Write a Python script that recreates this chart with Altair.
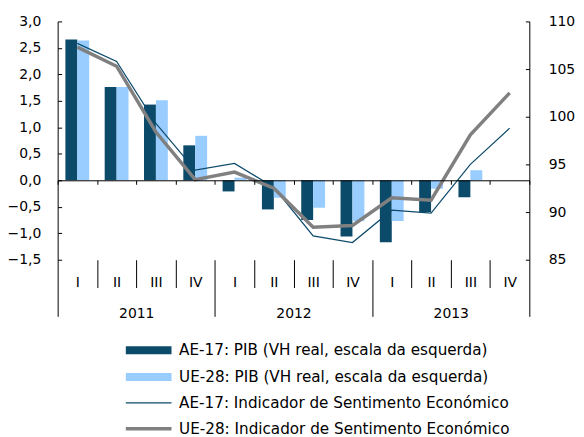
import altair as alt
import pandas as pd

years = ["2011"] * 4 + ["2012"] * 4 + ["2013"] * 4
quarters = ["I", "II", "III", "IV"] * 3
periods = [f"{y} {q}" for y, q in zip(years, quarters)]
year_list = ["2011", "2012", "2013"]

gdp_names = ["AE-17: PIB (VH real, escala da esquerda)", "UE-28: PIB (VH real, escala da esquerda)"]
esi_names = ["AE-17: Indicador de Sentimento Económico", "UE-28: Indicador de Sentimento Económico"]

ae_gdp = [2.66, 1.76, 1.43, 0.66, -0.21, -0.55, -0.75, -1.06, -1.17, -0.60, -0.32, None]
ue_gdp = [2.64, 1.76, 1.51, 0.84, 0.05, -0.33, -0.52, -0.77, -0.77, -0.16, 0.19, None]
ae_esi = [107.7, 105.8, 99.3, 94.4, 95.1, 92.6, 87.5, 86.8, 90.2, 89.9, 95.0, 98.8]
ue_esi = [107.3, 105.3, 98.4, 93.4, 94.2, 92.5, 88.4, 88.6, 91.5, 91.25, 98.1, 102.5]

left_ticks = [-1.5, -1.0, -0.5, 0.0, 0.5, 1.0, 1.5, 2.0, 2.5, 3.0]
right_ticks = [85, 90, 95, 100, 105, 110]

DARK = "#0c4a6a"
LIGHT = "#99ccff"
GREY = "#808080"
FONT = "DejaVu Sans"

gdp_df = pd.DataFrame({
    "period": periods * 2,
    "series": [gdp_names[0]] * 12 + [gdp_names[1]] * 12,
    "value": ae_gdp + ue_gdp,
})
ae_df = pd.DataFrame({"period": periods, "series": esi_names[0], "value": ae_esi})
ue_df = pd.DataFrame({"period": periods, "series": esi_names[1], "value": ue_esi})
year_df = pd.DataFrame({"year": year_list})
zero_df = pd.DataFrame({"v": [0.0]})

xscale = alt.Scale(domain=periods, paddingInner=0, paddingOuter=0)
lscale = alt.Scale(domain=[-1.5, 3.0], nice=False, zero=False)
rscale = alt.Scale(domain=[85, 110], nice=False, zero=False)

BAR_SYM = "M-4,-0.7H4V0.7H-4Z"
LINE_SYM = "M-4,0H4"

def leg(x, y, sw):
    return alt.Legend(
        orient="none", legendX=x, legendY=y, title=None,
        symbolType=BAR_SYM if sw == 0 else LINE_SYM, symbolSize=132.25,
        symbolStrokeWidth=sw, labelFont=FONT, labelFontSize=15.3, labelColor="black",
        labelOffset=23, rowPadding=11, padding=0, labelLimit=500,
    )

bars = alt.Chart(gdp_df).mark_bar().encode(
    x=alt.X("period:N", scale=xscale, title=None,
            axis=alt.Axis(orient="bottom", domain=False, tickBand="extent", tickSize=28,
                          labelExpr="split(datum.label, ' ')[1]", labelPadding=-12,
                          labelAngle=0)),
    xOffset=alt.XOffset("series:N", scale=alt.Scale(domain=gdp_names, paddingInner=0, paddingOuter=0.65)),
    y=alt.Y("value:Q", scale=lscale, title=None,
            axis=alt.Axis(orient="left", values=left_ticks, ticks=False, labelPadding=17,
                          labelExpr="replace(format(datum.value, '.1f'), '.', ',')", grid=False)),
    color=alt.Color("series:N", scale=alt.Scale(domain=gdp_names, range=[DARK, LIGHT]),
                    legend=leg(84, 323.5, 0)),
)

left_inner = alt.Chart(zero_df).mark_rule(opacity=0).encode(
    y=alt.Y("v:Q", scale=lscale, title=None,
            axis=alt.Axis(orient="left", offset=-4, tickSize=4, labels=False, domain=False,
                          values=left_ticks, grid=False)),
)

ae_line = alt.Chart(ae_df).mark_line(strokeWidth=1.2).encode(
    x=alt.X("period:N", scale=xscale, title=None,
            axis=alt.Axis(orient="bottom", offset=-80, tickBand="extent", tickSize=4,
                          labels=False, domain=True, zindex=1)),
    y=alt.Y("value:Q", scale=rscale, title=None,
            axis=alt.Axis(orient="right", values=right_ticks, ticks=False, labelPadding=19, grid=False)),
    color=alt.Color("series:N", scale=alt.Scale(domain=[esi_names[0]], range=[DARK]),
                    legend=leg(84, 376.5, 1.2)),
)

ue_line = alt.Chart(ue_df).mark_line(strokeWidth=3.5).encode(
    x=alt.X("period:N", scale=xscale, axis=None),
    y=alt.Y("value:Q", scale=rscale, title=None,
            axis=alt.Axis(orient="right", offset=-4, tickSize=4, labels=False, domain=False,
                          values=right_ticks, grid=False)),
    color=alt.Color("series:N", scale=alt.Scale(domain=[esi_names[1]], range=[GREY]),
                    legend=leg(84, 402.5, 3.5)),
)

year_axis = alt.Chart(year_df).mark_rule(opacity=0).encode(
    x=alt.X("year:N", scale=alt.Scale(domain=year_list, paddingInner=0, paddingOuter=0), title=None,
            axis=alt.Axis(orient="bottom", offset=28, domain=False, tickBand="extent", tickSize=29,
                          labelPadding=-9.5, labelAngle=0)),
)

chart = alt.layer(bars, left_inner, ae_line, ue_line, year_axis).resolve_scale(
    x="independent", y="independent", color="independent"
).properties(
    width=475, height=240,
    padding={"left": 50, "top": 12, "right": 47, "bottom": 177},
    autosize=alt.AutoSizeParams(type="none"),
).configure_view(stroke=None).configure_axis(
    labelFont=FONT, labelFontSize=14, labelColor="black",
    tickColor="black", domainColor="black", tickWidth=1, domainWidth=1,
)

chart.save("out.html", embed_options={"renderer": "svg", "actions": False})
